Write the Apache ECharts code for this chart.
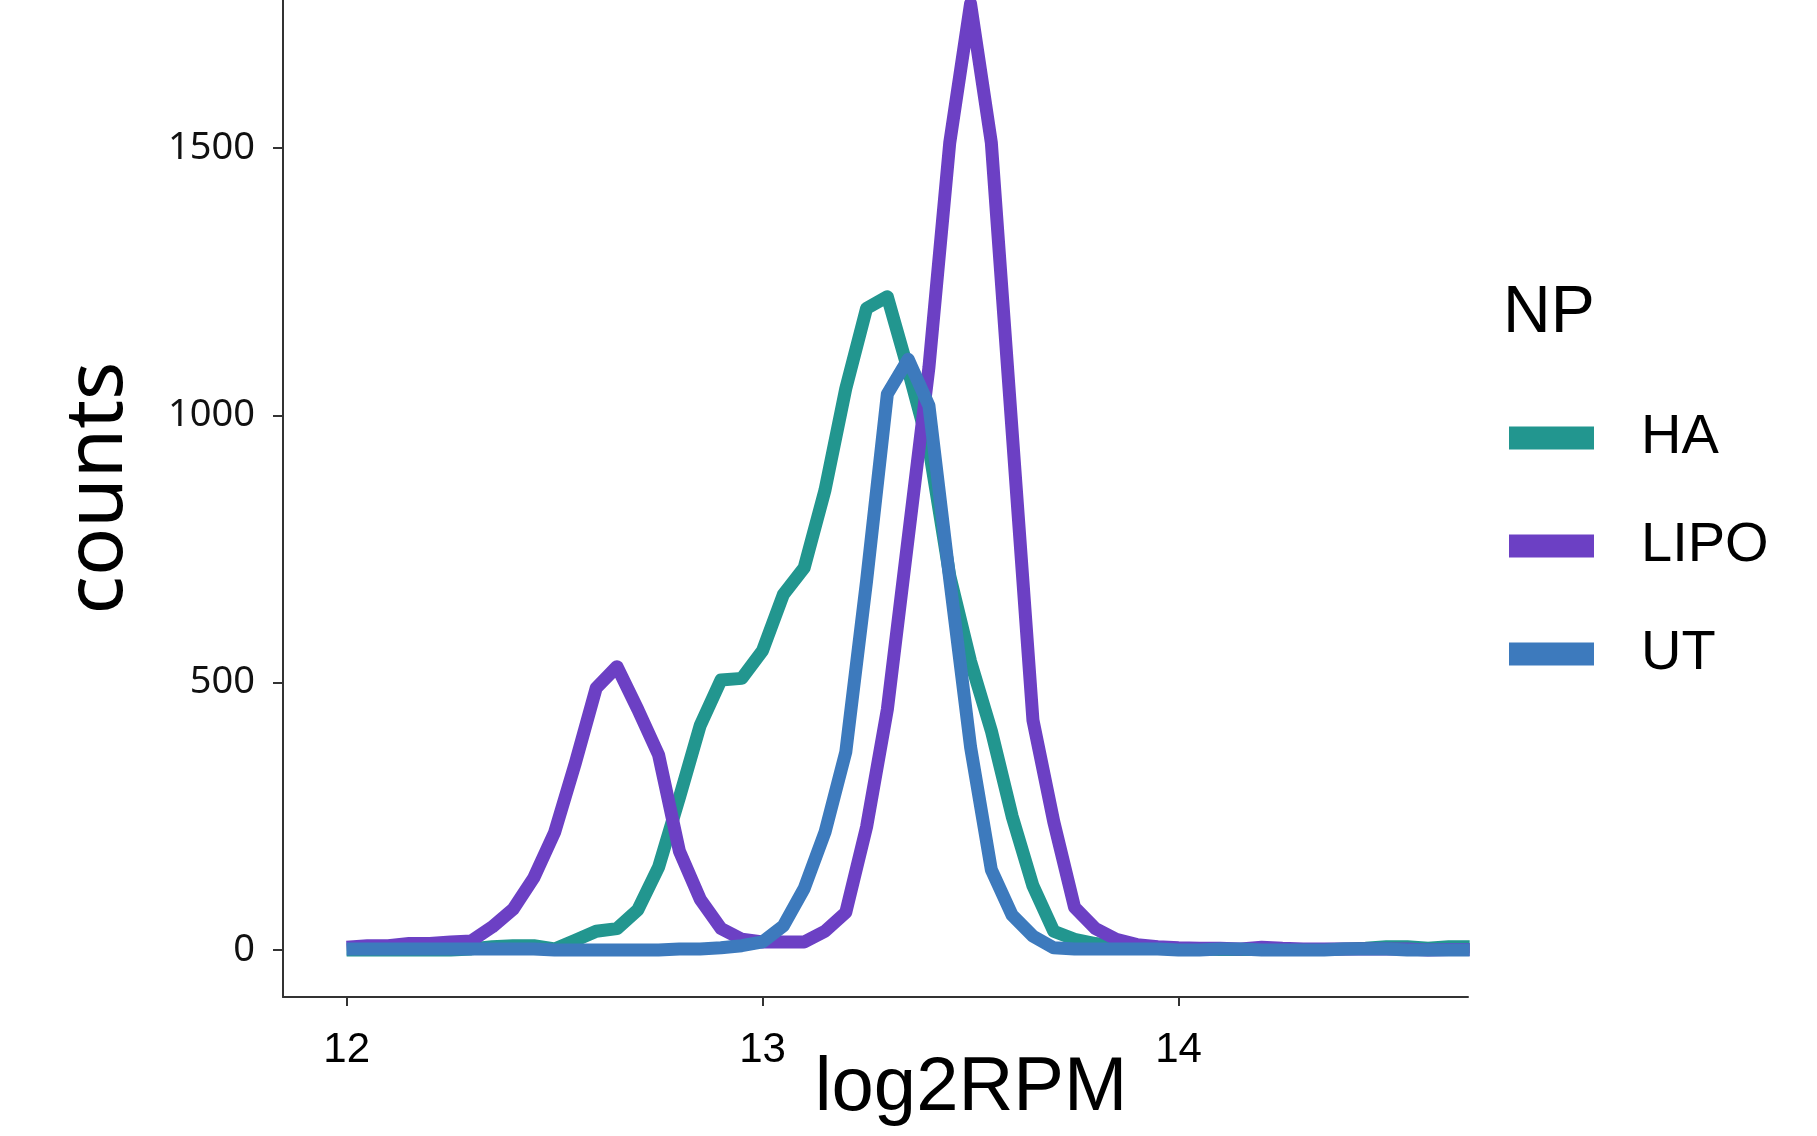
<!DOCTYPE html>
<html>
<head>
<meta charset="utf-8">
<script src="https://cdn.jsdelivr.net/npm/echarts@6/dist/echarts.min.js"></script>
<style>
  html, body { margin: 0; padding: 0; background: #ffffff; }
  #chart { width: 1817px; height: 1136px; }
</style>
</head>
<body>
<div id="chart"></div>
<script>
// log2RPM bin centres
const xValues = [12.00, 12.05, 12.10, 12.15, 12.20, 12.25, 12.30, 12.35, 12.40, 12.45,
                 12.50, 12.55, 12.60, 12.65, 12.70, 12.75, 12.80, 12.85, 12.90, 12.95,
                 13.00, 13.05, 13.10, 13.15, 13.20, 13.25, 13.30, 13.35, 13.40, 13.45,
                 13.50, 13.55, 13.60, 13.65, 13.70, 13.75, 13.80, 13.85, 13.90, 13.95,
                 14.00, 14.05, 14.10, 14.15, 14.20, 14.25, 14.30, 14.35, 14.40, 14.45,
                 14.50, 14.55, 14.60, 14.65, 14.70];

const haCounts = [0, 0, 0, 0, 0, 0, 2, 6, 8, 8,
                  2, 18, 35, 40, 75, 155, 285, 420, 505, 508,
                  560, 665, 715, 860, 1050, 1200, 1222, 1085, 940, 700,
                  540, 410, 250, 120, 35, 20, 12, 6, 4, 3,
                  2, 2, 1, 1, 1, 1, 1, 1, 2, 3,
                  6, 6, 3, 6, 6];

const lipoCounts = [5, 8, 8, 12, 12, 15, 17, 43, 76, 135,
                    220, 350, 490, 530, 450, 365, 185, 95, 40, 20,
                    15, 15, 15, 35, 70, 230, 450, 770, 1090, 1510,
                    1770, 1510, 970, 430, 240, 80, 40, 20, 10, 6,
                    4, 3, 3, 2, 5, 3, 2, 2, 2, 2,
                    2, 2, 0, 1, 1];

const utCounts = [2, 2, 2, 2, 2, 2, 2, 2, 2, 2,
                  0, 0, 0, 0, 0, 0, 2, 2, 4, 8,
                  15, 45, 115, 220, 370, 690, 1040, 1105, 1018, 693,
                  380, 150, 65, 26, 4, 2, 2, 2, 2, 2,
                  0, 0, 2, 2, 0, 0, 0, 0, 2, 2,
                  2, 0, 0, 0, 0];

const seriesNames = ['HA', 'LIPO', 'UT'];
const seriesColors = ['#22968F', '#6C40C4', '#3D7ABD'];
const xTicks = [12, 13, 14];
const yTicks = [0, 500, 1000, 1500];

function pairs(ys) { return xValues.map((x, i) => [x, ys[i]]); }
const allCounts = [haCounts, lipoCounts, utCounts];

const chart = echarts.init(document.getElementById('chart'), null, { renderer: 'canvas' });
const axisColor = '#333333';

chart.setOption({
  animation: false,
  backgroundColor: '#ffffff',
  grid: { left: 283, right: 349, top: 0, bottom: 139, containLabel: false },
  xAxis: {
    type: 'value',
    min: 11.847,
    max: 14.696,
    axisLine: { show: true, onZero: false, lineStyle: { color: axisColor, width: 2 } },
    axisTick: { show: true, customValues: xTicks, length: 9, lineStyle: { color: axisColor, width: 2 } },
    axisLabel: { customValues: xTicks, fontSize: 42, fontFamily: 'Liberation Sans', color: '#000', margin: 32,
                 formatter: v => String(v) },
    splitLine: { show: false }
  },
  yAxis: {
    type: 'value',
    min: -88,
    max: 1777,
    axisLine: { show: true, onZero: false, lineStyle: { color: axisColor, width: 2 } },
    axisTick: { show: true, customValues: yTicks, length: 10, lineStyle: { color: axisColor, width: 2 } },
    axisLabel: { customValues: yTicks, fontSize: 38, fontFamily: 'Noto Sans', color: '#111', margin: 28,
                 formatter: v => String(v) },
    splitLine: { show: false }
  },
  legend: {
    orient: 'vertical',
    left: 1509,
    top: 408,
    padding: 0,
    itemWidth: 85,
    itemHeight: 23,
    itemGap: 48,
    icon: 'rect',
    itemStyle: { borderWidth: 0 },
    selectedMode: false,
    textStyle: { fontSize: 56, fontFamily: 'Liberation Sans', color: '#000', lineHeight: 60, padding: [0, 0, 0, 42] },
    data: seriesNames
  },
  graphic: [
    { type: 'text', x: 99, y: 488, rotation: Math.PI / 2,
      style: { text: 'counts', font: '80px "Noto Sans"', fill: '#000', textAlign: 'center', textVerticalAlign: 'middle' } },
    { type: 'text', x: 971, y: 1089,
      style: { text: 'log2RPM', font: '76px "Liberation Sans"', fill: '#000', textAlign: 'center', textVerticalAlign: 'middle' } },
    { type: 'text', x: 1503, y: 314,
      style: { text: 'NP', font: '66px "Liberation Sans"', fill: '#000', textAlign: 'left', textVerticalAlign: 'middle' } }
  ],
  series: seriesNames.map((name, i) => ({
    name: name,
    type: 'line',
    data: pairs(allCounts[i]),
    symbol: 'none',
    showSymbol: false,
    smooth: false,
    clip: true,
    color: seriesColors[i],
    lineStyle: { width: 13, color: seriesColors[i], join: 'round' },
    itemStyle: { color: seriesColors[i] },
    emphasis: { disabled: true },
    z: 2 + i
  }))
});
</script>
</body>
</html>
